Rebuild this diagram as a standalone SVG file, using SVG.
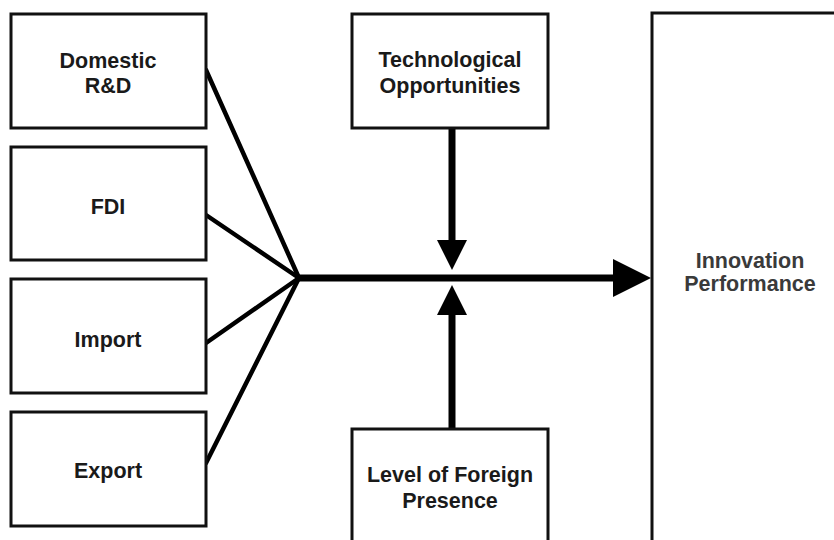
<svg xmlns="http://www.w3.org/2000/svg" width="834" height="540" viewBox="0 0 834 540">
<style>
.box{fill:#fff;stroke:#111;stroke-width:3}
.t{font-family:"Liberation Sans",Arial,sans-serif;font-weight:bold;font-size:21.5px;fill:#1a1a1a;text-anchor:middle}
.t2{font-family:"Liberation Sans",Arial,sans-serif;font-weight:bold;font-size:21.5px;fill:#3a3a3a;text-anchor:middle}
.thin{stroke:#000;stroke-width:4.5;fill:none;stroke-linecap:round}
.thick{stroke:#000;stroke-width:7;fill:none}
.head{fill:#000}
</style>
<rect width="834" height="540" fill="#fff"/>
<g id="connectors">
<line class="thin" x1="206" y1="70" x2="299" y2="278"/>
<line class="thin" x1="206" y1="215" x2="299" y2="278"/>
<line class="thin" x1="206" y1="343" x2="299" y2="278"/>
<line class="thin" x1="206" y1="463" x2="299" y2="278"/>
<line class="thick" x1="298" y1="278" x2="616" y2="278"/>
<polygon class="head" points="613,259 651,278 613,297"/>
<line class="thick" x1="452" y1="128" x2="452" y2="243"/>
<polygon class="head" points="437,240 467,240 452,270"/>
<line class="thick" x1="452" y1="312" x2="452" y2="429"/>
<polygon class="head" points="437,315 467,315 452,285"/>
</g>
<g id="domestic-rd">
<rect class="box" x="11" y="14" width="195" height="114"/>
<text class="t" x="108" y="68">Domestic</text>
<text class="t" x="108" y="93">R&amp;D</text>
</g>
<g id="fdi">
<rect class="box" x="11" y="147" width="195" height="113"/>
<text class="t" x="108" y="214">FDI</text>
</g>
<g id="import">
<rect class="box" x="11" y="279" width="195" height="114"/>
<text class="t" x="108" y="347">Import</text>
</g>
<g id="export">
<rect class="box" x="11" y="412" width="195" height="114"/>
<text class="t" x="108" y="478">Export</text>
</g>
<g id="tech-opp">
<rect class="box" x="352" y="14" width="196" height="114"/>
<text class="t" x="450" y="67">Technological</text>
<text class="t" x="450" y="93">Opportunities</text>
</g>
<g id="foreign-presence">
<rect class="box" x="352" y="429" width="196" height="130"/>
<text class="t" x="450" y="482">Level of Foreign</text>
<text class="t" x="450" y="508">Presence</text>
</g>
<g id="innovation">
<rect class="box" x="652" y="13" width="200" height="550"/>
<text class="t2" x="750" y="268">Innovation</text>
<text class="t2" x="750" y="291">Performance</text>
</g>
</svg>
